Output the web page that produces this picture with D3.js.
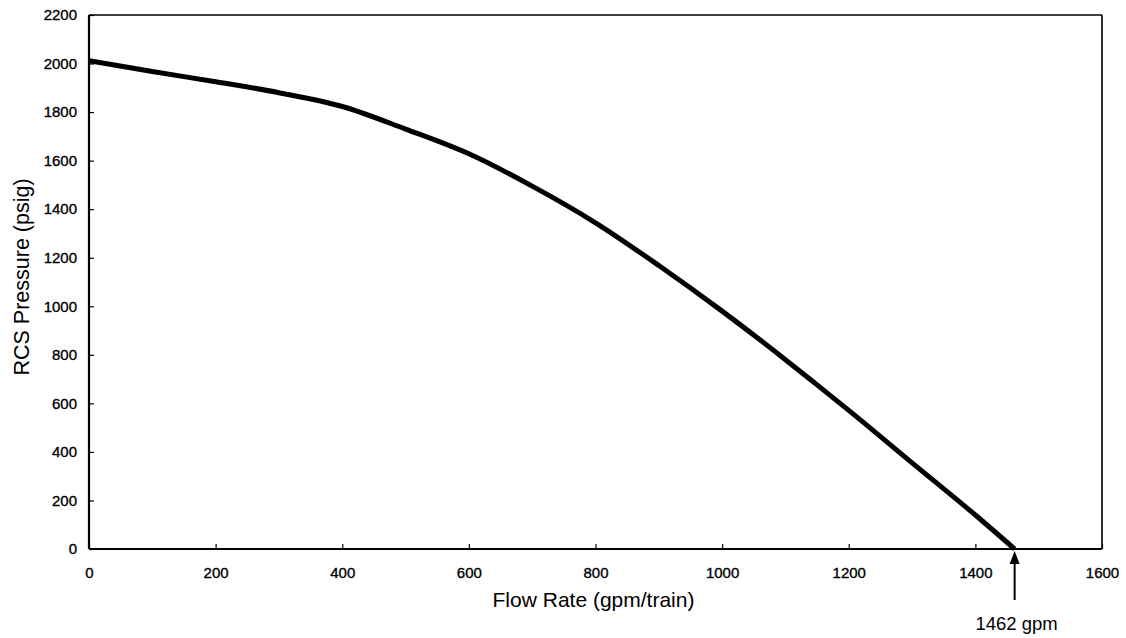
<!DOCTYPE html>
<html>
<head>
<meta charset="utf-8">
<script src="https://cdn.jsdelivr.net/npm/d3@7"></script>
<style>
  html,body{margin:0;padding:0;background:#fff;}
  svg{display:block;font-family:"Liberation Sans",Arial,sans-serif;}
  .tick text{font-size:15px;fill:#000;stroke:#000;stroke-width:0.35px;font-family:"Liberation Sans",Arial,sans-serif;}
</style>
</head>
<body>
<svg id="chart"></svg>
<script>
'use strict';
// pump curve: flow (gpm/train) vs RCS pressure (psig)
const flow=[0,100,200,300,400,500,600,700,800,900,1000,1100,1150,1200,1300,1400,1462];
const pressure=[2012,1967,1925,1880,1823,1730,1628,1495,1344,1168,980,780,676,571,355,140,0];
const xTicks=[0,200,400,600,800,1000,1200,1400,1600];
const yTicks=[0,200,400,600,800,1000,1200,1400,1600,1800,2000,2200];
const runout=1462;

const W=1126,H=638;
const m={top:15,right:24,bottom:89,left:89};
const w=W-m.left-m.right,h=H-m.top-m.bottom;
const svg=d3.select('#chart').attr('width',W).attr('height',H);
const g=svg.append('g').attr('transform',`translate(${m.left},${m.top})`);

const x=d3.scaleLinear().domain([0,1600]).range([0,w]);
const y=d3.scaleLinear().domain([0,2200]).range([h,0]);
const fmt=d3.format('d');

// axes, ticks pointing inward
const xa=g.append('g').attr('transform',`translate(0,${h})`)
  .call(d3.axisBottom(x).tickValues(xTicks).tickFormat(fmt).tickSize(-5).tickPadding(18).tickSizeOuter(0));
const ya=g.append('g')
  .call(d3.axisLeft(y).tickValues(yTicks).tickFormat(fmt).tickSize(-5).tickPadding(12).tickSizeOuter(0));
[xa,ya].forEach(a=>{a.select('.domain').remove();a.selectAll('line').attr('stroke','#000').attr('stroke-width',1.2);});

// plot frame
g.append('line').attr('x1',0).attr('x2',w).attr('y1',0).attr('y2',0).attr('stroke','#000').attr('stroke-width',1.6);
g.append('line').attr('x1',w).attr('x2',w).attr('y1',0).attr('y2',h).attr('stroke','#000').attr('stroke-width',1.6);
g.append('line').attr('x1',0).attr('x2',0).attr('y1',0).attr('y2',h).attr('stroke','#000').attr('stroke-width',2.2);
g.append('line').attr('x1',0).attr('x2',w).attr('y1',h).attr('y2',h).attr('stroke','#000').attr('stroke-width',2.2);

// curve
const pts=flow.map((f,i)=>[f,pressure[i]]);
g.append('path').datum(pts)
  .attr('fill','none').attr('stroke','#000').attr('stroke-width',5).attr('stroke-linejoin','round')
  .attr('d',d3.line().x(d=>x(d[0])).y(d=>y(d[1])).curve(d3.curveMonotoneX));

// runout arrow + label
const ax=x(runout);
g.append('line').attr('x1',ax).attr('x2',ax).attr('y1',h+51).attr('y2',h+12).attr('stroke','#000').attr('stroke-width',2);
g.append('path').attr('d',`M${ax},${h+2} L${ax-5},${h+15} L${ax+5},${h+15} Z`).attr('fill','#000');
g.append('text').attr('x',ax+2).attr('y',h+81).attr('text-anchor','middle')
  .attr('font-size',18.5).text(runout+' gpm');

// axis titles
g.append('text').attr('x',w/2-2).attr('y',h+58).attr('text-anchor','middle')
  .attr('font-size',21).text('Flow Rate (gpm/train)');
g.append('text').attr('transform',`translate(${-60},${h/2-5}) rotate(-90)`).attr('text-anchor','middle')
  .attr('font-size',21.5).text('RCS Pressure (psig)');
</script>
</body>
</html>
